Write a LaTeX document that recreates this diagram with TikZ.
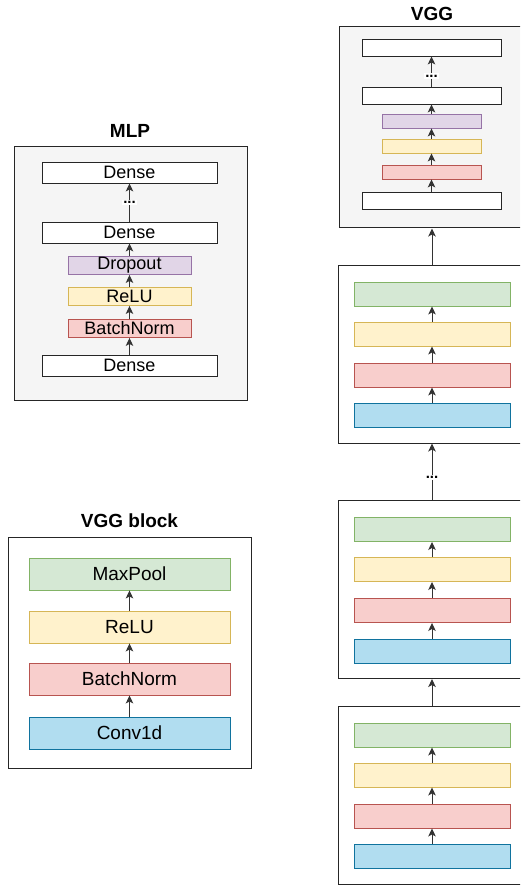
\documentclass[tikz,border=0pt]{standalone}
\usepackage{fontspec}
\setmainfont{Liberation Sans}
\usetikzlibrary{arrows.meta}

\definecolor{greenfill}{HTML}{D5E8D4}
\definecolor{greenline}{HTML}{82B366}
\definecolor{yellowfill}{HTML}{FFF2CC}
\definecolor{yellowline}{HTML}{D6B656}
\definecolor{redfill}{HTML}{F8CECC}
\definecolor{redline}{HTML}{B85450}
\definecolor{bluefill}{HTML}{B1DDF0}
\definecolor{blueline}{HTML}{10739E}
\definecolor{purplefill}{HTML}{E1D5E7}
\definecolor{purpleline}{HTML}{9673A6}
\definecolor{panelfill}{HTML}{F5F5F5}

\begin{document}
\begin{tikzpicture}[x=1pt, y=-1pt,
          panel/.style={draw=black!85, fill=panelfill, line width=1pt, inner sep=0pt},
          block/.style={draw=black!85, fill=white, line width=1pt, inner sep=0pt},
          layer/.style={draw, inner sep=0pt, line width=0.9pt, font=\fontsize{18}{20}\selectfont},
          plain/.style={layer, draw=black!85, fill=white},
          greenl/.style={layer, draw=greenline, fill=greenfill},
          yellowl/.style={layer, draw=yellowline, fill=yellowfill},
          redl/.style={layer, draw=redline, fill=redfill},
          bluel/.style={layer, draw=blueline, fill=bluefill},
          purplel/.style={layer, draw=purpleline, fill=purplefill},
          big/.style={font=\fontsize{19}{21}\selectfont},
          title/.style={font=\bfseries\fontsize{19}{21}\selectfont},
          dots/.style={fill=white, inner sep=1.5pt, font=\bfseries\fontsize{15}{17}\selectfont},
          arrow/.style={-{Stealth[length=8pt,width=7.5pt,inset=2pt]}, line width=1pt, draw=black!80}
        ]
          \path[use as bounding box, clip] (0,0) rectangle (520,885);

          % MLP
          \node[title] (mlptitle) at (130,131) {MLP};
          \node[panel, minimum width=233, minimum height=253] (mlp) at (130.5,273.5) {};
          \node[plain, minimum width=175, minimum height=21] (denseT) at (129.5,172.5) {Dense};
          \node[plain, minimum width=175, minimum height=21] (denseM) at (129.5,232.5) {Dense};
          \node[purplel, minimum width=123, minimum height=18] (dropout) at (129.5,265.5) {Dropout};
          \node[yellowl, minimum width=123, minimum height=18] (mlprelu) at (129.5,296.5) {ReLU};
          \node[redl, minimum width=123, minimum height=18] (mlpbn) at (129.5,328.5) {BatchNorm};
          \node[plain, minimum width=175, minimum height=21] (denseB) at (129.5,365.5) {Dense};

          \draw[arrow] (denseB) -- (mlpbn);
          \draw[arrow] (mlpbn) -- (mlprelu);
          \draw[arrow] (mlprelu) -- (dropout);
          \draw[arrow] (dropout) -- (denseM);
          \draw[arrow] (denseM) -- node[dots] {...} (denseT);

          % VGG block
          \node[title] (blocktitle) at (129.5,521) {VGG block};
          \node[block, minimum width=243, minimum height=231] (vggblock) at (129.5,652.5) {};
          \node[greenl, big, minimum width=201, minimum height=32] (maxpool) at (129.5,574) {MaxPool};
          \node[yellowl, big, minimum width=201, minimum height=32] (relu) at (129.5,627) {ReLU};
          \node[redl, big, minimum width=201, minimum height=32] (bn) at (129.5,679) {BatchNorm};
          \node[bluel, big, minimum width=201, minimum height=32] (conv) at (129.5,733) {Conv1d};

          \draw[arrow] (conv) -- (bn);
          \draw[arrow] (bn) -- (relu);
          \draw[arrow] (relu) -- (maxpool);

          % VGG
          \node[title] (vggtitle) at (432,14) {VGG};
          \node[panel, minimum width=186, minimum height=201] (vgg) at (432,127.5) {};
          \node[plain, minimum width=139, minimum height=17] (vggT) at (431.5,47.5) {};
          \node[plain, minimum width=139, minimum height=17] (vggM) at (431.5,95.5) {};
          \node[purplel, minimum width=99, minimum height=14] (vggdrop) at (431.5,121) {};
          \node[yellowl, minimum width=99, minimum height=14] (vggrelu) at (431.5,146) {};
          \node[redl, minimum width=99, minimum height=14] (vggbn) at (431.5,172) {};
          \node[plain, minimum width=139, minimum height=17] (vggB) at (431.5,200.5) {};

          \draw[arrow] (vggB) -- (vggbn);
          \draw[arrow] (vggbn) -- (vggrelu);
          \draw[arrow] (vggrelu) -- (vggdrop);
          \draw[arrow] (vggdrop) -- (vggM);
          \draw[arrow] (vggM) -- node[dots, pos=0.35] {...} (vggT);

          % stacked VGG blocks, top to bottom
          \foreach \name/\y in {one/354, two/589.5, three/795} {
            \node[block, minimum width=188, minimum height=178] (\name) at (432,\y) {};
            \node[greenl, minimum width=156, minimum height=24] (\name g) at (432,\y-60) {};
            \node[yellowl, minimum width=156, minimum height=24] (\name y) at (432,\y-20) {};
            \node[redl, minimum width=156, minimum height=24] (\name r) at (432,\y+21) {};
            \node[bluel, minimum width=156, minimum height=24] (\name b) at (432,\y+61.5) {};
            \draw[arrow] (\name b) -- (\name r);
            \draw[arrow] (\name r) -- (\name y);
            \draw[arrow] (\name y) -- (\name g);
          }

          \draw[arrow] (three) -- (two);
          \draw[arrow] (two) -- node[dots, pos=0.4] {...} (one);
          \draw[arrow] (one) -- (vgg);

        \end{tikzpicture}
\end{document}
